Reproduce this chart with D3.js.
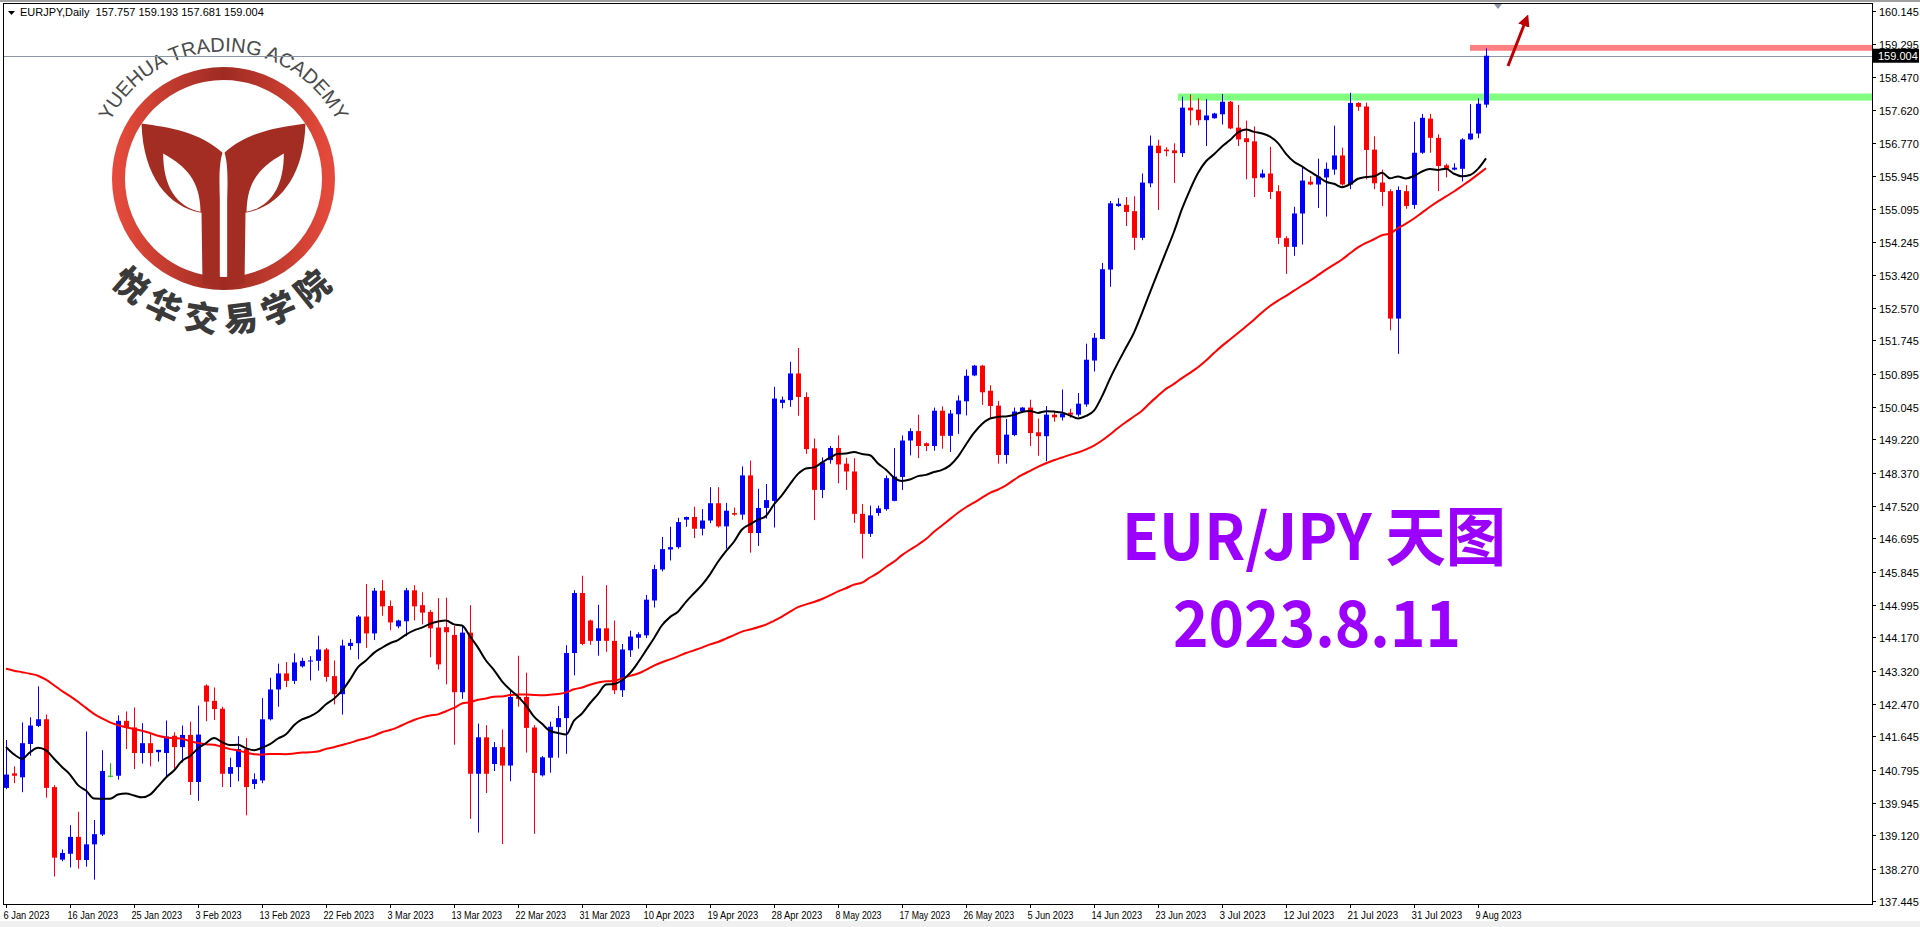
<!DOCTYPE html>
<html>
<head>
<meta charset="utf-8">
<script src="https://cdn.jsdelivr.net/npm/d3@7"></script>
<style>
  body { margin: 0; background: #fff; overflow: hidden; }
  svg { display: block; font-family: "Liberation Sans", Arial, sans-serif; }
</style>
</head>
<body>
<svg id="chart" width="1920" height="927"></svg>
<script>
// daily bars, 6 Jan 2023 .. 10 Aug 2023 (broker shows small Sunday bars)
var opens = [140.33,140.70,140.60,141.45,141.91,142.08,140.35,138.50,138.65,139.08,138.49,138.89,139.14,140.64,140.64,142.04,141.87,141.22,141.47,141.24,
  141.22,141.66,141.37,141.68,140.48,142.94,142.55,142.35,140.69,140.86,141.32,140.43,140.52,142.08,142.84,143.25,143.06,143.43,143.57,143.57,
  143.86,143.18,142.72,143.95,144.02,144.70,144.27,145.36,144.97,144.45,144.58,145.37,144.99,144.82,144.42,144.43,144.23,142.77,144.29,140.69,
  141.62,140.94,141.37,140.90,142.65,142.65,141.87,140.65,141.10,141.88,142.11,143.77,145.30,144.60,144.08,144.40,144.08,142.82,143.84,144.16,
  144.22,145.11,145.90,146.41,146.47,147.17,147.24,146.94,147.15,147.59,147.00,147.34,147.30,148.30,146.83,147.47,147.65,150.15,150.22,150.90,
  150.30,148.99,147.93,148.69,149.00,148.60,148.40,147.32,146.81,147.34,147.44,147.65,148.26,149.19,149.43,149.12,149.05,149.95,149.31,149.86,
  150.19,150.85,151.10,150.46,150.08,148.82,149.33,149.94,150.03,149.40,149.30,149.85,149.78,149.90,149.85,150.11,151.23,151.78,153.55,155.17,
  155.20,155.04,154.36,155.75,156.71,156.61,156.59,156.52,157.68,157.63,157.36,157.41,157.51,157.83,157.17,156.90,156.82,155.90,156.00,155.55,
  154.35,154.13,154.98,155.79,155.72,155.90,156.10,156.46,155.72,157.80,157.71,156.61,155.77,155.55,152.30,155.55,155.20,156.53,157.40,156.91,
  156.21,156.10,156.12,156.87,157.02,157.757];
var highs = [141.55,140.88,142.00,142.13,142.92,142.20,140.40,138.76,139.38,139.72,141.77,139.51,141.29,140.96,142.18,142.28,142.38,141.98,141.72,141.30,
  142.05,141.75,141.92,142.02,142.43,142.97,142.89,142.40,141.10,141.65,141.60,140.70,142.62,143.14,143.50,143.54,143.76,143.65,143.69,144.21,
  143.90,143.58,144.11,144.13,144.74,145.53,145.43,145.63,145.11,144.62,145.43,145.50,145.32,144.87,145.17,145.18,144.46,144.44,144.99,141.97,
  141.93,141.50,141.82,142.85,143.70,143.27,141.93,141.14,142.02,142.42,143.97,145.37,145.74,144.62,145.00,145.50,144.60,144.00,144.34,144.30,
  145.25,146.02,146.73,146.99,147.22,147.25,147.50,147.44,148.00,148.00,147.60,147.48,148.53,148.68,147.96,148.08,150.56,150.31,151.20,151.55,
  150.42,149.24,148.76,149.05,149.32,148.75,148.74,147.57,147.53,147.53,148.30,149.00,149.32,149.50,149.85,149.14,150.03,150.06,149.97,150.34,
  151.00,151.12,151.12,150.60,150.20,149.74,150.03,150.04,150.23,149.75,150.07,149.95,150.49,150.00,150.40,151.66,151.93,153.72,155.30,155.37,
  155.40,155.42,156.00,156.97,156.86,156.67,156.77,157.96,158.02,157.92,157.90,157.55,158.03,157.85,157.75,157.35,157.20,156.10,156.68,155.70,
  154.40,155.15,156.15,155.93,156.38,156.28,157.22,156.66,158.06,157.82,157.81,156.95,156.10,155.60,155.67,155.70,157.32,157.52,157.52,157.00,
  156.25,156.26,156.90,157.77,157.92,159.193];
var lows = [140.30,140.45,140.22,141.15,141.88,140.08,138.07,138.46,138.30,138.27,138.32,137.99,139.10,140.60,140.54,141.32,140.81,140.95,140.88,141.00,
  140.62,140.82,140.98,140.15,140.00,142.03,142.06,140.35,140.35,140.50,139.63,140.30,140.45,142.05,142.40,142.90,142.98,143.40,143.07,143.32,
  143.04,142.46,142.20,143.85,143.61,143.90,144.10,144.72,144.35,144.40,144.20,144.60,144.50,143.66,143.35,142.97,141.43,142.60,139.54,139.19,
  140.20,140.76,138.90,140.50,142.40,141.23,139.16,140.62,140.72,141.10,141.20,143.20,143.97,143.98,143.70,143.80,142.72,142.65,143.67,143.88,
  144.15,144.93,145.85,146.13,146.43,146.99,146.70,146.77,147.08,146.97,146.43,147.27,147.17,146.33,146.50,147.20,146.97,150.01,150.05,149.82,
  148.85,147.16,147.72,148.60,148.10,147.93,147.09,146.18,146.73,147.27,147.40,147.64,147.93,148.81,148.74,148.92,148.93,148.98,148.90,149.36,
  149.83,150.83,150.10,149.75,148.60,148.60,149.30,149.90,149.05,148.80,148.66,149.67,149.70,149.77,149.80,150.05,150.95,151.77,153.11,155.15,
  154.66,154.05,154.30,155.65,155.07,156.44,155.76,156.42,157.23,157.23,156.70,157.40,157.25,157.13,156.70,155.85,155.40,155.88,155.35,154.20,
  153.44,153.90,154.19,155.70,155.12,154.90,155.97,155.69,155.60,157.60,155.85,155.60,155.17,152.00,151.40,155.10,155.10,156.50,156.53,155.55,
  155.90,156.08,155.80,156.85,156.90,157.681];
var closes = [140.67,140.64,141.47,141.92,142.08,140.33,138.55,138.67,139.08,138.49,138.89,139.15,140.76,140.64,142.04,141.86,141.22,141.47,141.22,141.30,
  141.64,141.37,141.68,140.48,141.69,142.53,142.34,140.69,140.86,141.32,140.35,140.55,142.08,142.84,143.25,143.06,143.53,143.57,143.58,143.86,
  143.16,142.72,143.96,144.03,144.70,144.27,145.36,144.96,144.55,144.60,145.37,144.96,144.80,144.40,143.48,144.30,142.77,144.29,140.69,141.62,
  140.69,141.37,140.90,142.65,142.60,141.86,140.71,141.11,141.89,142.11,143.77,145.30,144.00,144.08,144.40,144.08,142.82,143.86,144.19,144.25,
  145.13,145.91,146.42,146.47,147.11,147.24,146.94,147.15,147.59,147.00,147.40,147.30,148.30,146.83,147.47,147.67,150.26,150.23,150.90,150.30,
  148.97,147.93,148.63,149.00,148.58,148.40,147.32,146.81,147.28,147.46,148.23,148.27,149.19,149.43,149.05,149.05,149.95,149.31,149.88,150.21,
  150.84,151.10,150.42,150.07,148.82,149.34,149.93,150.03,149.38,149.30,149.85,149.78,149.88,149.85,150.13,151.25,151.81,153.56,155.24,155.23,
  155.02,154.36,155.77,156.71,156.52,156.57,156.52,157.68,157.61,157.36,157.48,157.53,157.83,157.15,156.87,156.80,155.88,156.00,155.53,154.36,
  154.13,154.98,155.82,155.72,155.92,156.12,156.46,155.72,157.80,157.70,156.60,155.75,155.53,152.30,155.58,155.17,156.53,157.42,156.91,156.19,
  156.10,156.15,156.87,157.02,157.78,159.004];
// closes before the first visible bar (Oct-Dec 2022), only feed the moving averages
var priorCloses = [143.0,143.4,143.9,144.6,145.4,145.7,146.0,145.6,145.7,146.7,146.7,146.5,145.8,145.6,144.6,143.3,143.8,144.0,144.9,143.7,
  142.3,142.5,143.6,143.9,144.2,143.0,143.4,143.7,143.1,143.0,142.7,142.6,141.9,143.4,143.2,142.7,142.4,143.1,142.9,139.8,
  140.6,141.2,141.3,141.4,141.6,142.0,140.7,141.8,140.8];

var dateLabels = ["6 Jan 2023","16 Jan 2023","25 Jan 2023","3 Feb 2023","13 Feb 2023","22 Feb 2023","3 Mar 2023","13 Mar 2023",
  "22 Mar 2023","31 Mar 2023","10 Apr 2023","19 Apr 2023","28 Apr 2023","8 May 2023","17 May 2023","26 May 2023","5 Jun 2023",
  "14 Jun 2023","23 Jun 2023","3 Jul 2023","12 Jul 2023","21 Jul 2023","31 Jul 2023","9 Aug 2023"];
var priceTicks = [160.145,159.295,158.470,157.620,156.770,155.945,155.095,154.245,153.420,152.570,151.745,150.895,150.045,149.220,
  148.370,147.520,146.695,145.845,144.995,144.170,143.320,142.470,141.645,140.795,139.945,139.120,138.270,137.445];

var fastPeriod = 13, slowPeriod = 50;  // SMA black / red
var resistance = [157.86, 158.04];   // green zone
var target = [159.13, 159.28];       // red zone
var lastPrice = 159.004;

function sma(n) {
  var all = priorCloses.concat(closes), off = priorCloses.length;
  return closes.map(function (c, i) {
    var j = i + off;
    return d3.mean(all.slice(Math.max(0, j - n + 1), j + 1));
  });
}
var fast = sma(fastPeriod);
var slow = sma(slowPeriod);

var svg = d3.select("#chart");
var L = 4, R = 1872, T = 4, B = 904;

var x = d3.scaleLinear().domain([0, 1]).range([6, 14]);
var y = d3.scaleLinear().domain([137.445, 160.145]).range([901, 11]);

svg.append("rect").attr("x", 0).attr("y", 0).attr("width", 1920).attr("height", 927).attr("fill", "#fff");
svg.append("rect").attr("x", 0).attr("y", 0).attr("width", 1920).attr("height", 2).attr("fill", "#a0a0a0");
svg.append("rect").attr("x", 0).attr("y", 921).attr("width", 1920).attr("height", 6).attr("fill", "#f0f0f0");

// ---- logo ----
var CX = 223.5, CY = 178.5;
var defs = svg.append("defs");
var grad = defs.append("linearGradient").attr("id", "lg").attr("x1", "0").attr("x2", "1");
grad.append("stop").attr("offset", "0").attr("stop-color", "#e44a3b");
grad.append("stop").attr("offset", "0.5").attr("stop-color", "#9e2b22");
grad.append("stop").attr("offset", "1").attr("stop-color", "#e44a3b");
var logo = svg.append("g").attr("transform", "translate(" + CX + "," + CY + ")");
logo.append("circle").attr("r", 105).attr("fill", "none").attr("stroke", "url(#lg)").attr("stroke-width", 13);
var s = 1 / 3;
var armPath = "M185,310 C270,322 360,335 428,398 C418,430 418,470 420,540 L420,800 L368,790 L365,578 C265,560 190,470 185,310 Z";
var leafPath = "M250,400 C320,440 360,480 362,575 C290,560 250,500 250,400 Z";
[1, -1].forEach(function (m) {
  var g = logo.append("g").attr("transform", "scale(" + (m * s) + "," + s + ") translate(-431,-475)");
  g.append("path").attr("d", armPath).attr("fill", "#a32d22");
  g.append("path").attr("d", leafPath).attr("fill", "#fff");
});
var arcR = 127, a1 = -158 * Math.PI / 180, a2 = -22 * Math.PI / 180;
defs.append("path").attr("id", "topArc")
  .attr("d", "M" + (CX + arcR * Math.cos(a1)) + "," + (CY + arcR * Math.sin(a1)) +
    " A" + arcR + "," + arcR + " 0 0 1 " + (CX + arcR * Math.cos(a2)) + "," + (CY + arcR * Math.sin(a2)));
svg.append("text").style("font-size", "20px").attr("fill", "#4a4a4a")
  .append("textPath").attr("href", "#topArc").attr("startOffset", "50%").attr("text-anchor", "middle")
  .text("YUEHUA TRADING ACADEMY");
"悦华交易学院".split("").forEach(function (c, i) {
  var ang = 131 - i * 16, rad = ang * Math.PI / 180, r = 139;
  var cx = CX + r * Math.cos(rad), cy = CY + r * Math.sin(rad);
  svg.append("text")
    .attr("transform", "translate(" + cx + "," + cy + ") rotate(" + (ang - 90) + ")")
    .attr("text-anchor", "middle").attr("dominant-baseline", "central")
    .style("font-family", "'Noto Sans CJK SC'").style("font-weight", "900").style("font-size", "34px")
    .attr("fill", "#3a3a3a").text(c);
});

// zones
svg.append("rect").attr("x", 1178).attr("y", y(resistance[1])).attr("width", R - 1178)
  .attr("height", y(resistance[0]) - y(resistance[1])).attr("fill", "#80ff80");
svg.append("rect").attr("x", 1470).attr("y", y(target[1])).attr("width", R - 1470)
  .attr("height", y(target[0]) - y(target[1])).attr("fill", "#ff8080");

// last price line
var lpy = Math.round(y(lastPrice)) + 0.5;
svg.append("line").attr("x1", L).attr("x2", R).attr("y1", lpy).attr("y2", lpy).attr("stroke", "#8a96a4");

// candles
var bars = svg.append("g");
closes.forEach(function (c, i) {
  var o = opens[i], col = c > o ? "#0000ff" : (c < o ? "#ff0000" : "#00c000");
  var cx = Math.round(x(i)) + 0.5;
  bars.append("line").attr("x1", cx).attr("x2", cx).attr("y1", y(highs[i])).attr("y2", y(lows[i]))
    .attr("stroke", col).attr("stroke-width", 1);
  var top = y(Math.max(o, c)), h = Math.max(1, y(Math.min(o, c)) - top);
  bars.append("rect").attr("x", cx - 2.5).attr("y", top).attr("width", 5).attr("height", h).attr("fill", col);
});

// moving averages
var line = d3.line().x(function (d, i) { return x(i); }).y(function (d) { return y(d); }).curve(d3.curveMonotoneX);
svg.append("path").datum(slow).attr("d", line).attr("fill", "none").attr("stroke", "#ff0000").attr("stroke-width", 2);
svg.append("path").datum(fast).attr("d", line).attr("fill", "none").attr("stroke", "#000").attr("stroke-width", 2);

// arrow
defs.append("marker").attr("id", "ah").attr("viewBox", "0 0 10 10").attr("refX", 5).attr("refY", 5)
  .attr("markerWidth", 4).attr("markerHeight", 4).attr("orient", "auto")
  .append("path").attr("d", "M0,0 L10,5 L0,10 Z").attr("fill", "#c00000");
svg.append("line").attr("x1", 1508).attr("y1", 66).attr("x2", 1526).attr("y2", 20)
  .attr("stroke", "#c00000").attr("stroke-width", 3).attr("marker-end", "url(#ah)");
svg.append("path").attr("d", "M1494,4 L1502,4 L1498,9 Z").attr("fill", "#8a96a4");

// plot frame
svg.append("rect").attr("x", L - 0.5).attr("y", T - 0.5).attr("width", R - L + 1).attr("height", B - T + 1)
  .attr("fill", "none").attr("stroke", "#000");

// right axis
var ra = svg.append("g").style("font-size", "11px");
priceTicks.forEach(function (p) {
  var yy = Math.round(y(p)) + 0.5;
  ra.append("line").attr("x1", R).attr("x2", R + 4).attr("y1", yy).attr("y2", yy).attr("stroke", "#000");
  ra.append("text").attr("x", R + 7).attr("y", yy + 4).attr("fill", "#000").text(p.toFixed(3));
});
var ly = y(lastPrice);
ra.append("rect").attr("x", R + 1).attr("y", ly - 7).attr("width", 46).attr("height", 14).attr("fill", "#000");
ra.append("text").attr("x", R + 6).attr("y", ly + 4).attr("fill", "#fff").text(lastPrice.toFixed(3));

// bottom axis
var ba = svg.append("g").style("font-size", "10.5px");
dateLabels.forEach(function (d, k) {
  var xx = Math.round(x(k * 8)) + 0.5;
  ba.append("line").attr("x1", xx).attr("x2", xx).attr("y1", B).attr("y2", B + 4).attr("stroke", "#000");
  ba.append("text").attr("x", xx - 3).attr("y", B + 15).attr("fill", "#000")
    .attr("textLength", d.length * 4.6).attr("lengthAdjust", "spacingAndGlyphs").text(d);
});

// header
svg.append("path").attr("d", "M8,11 L15,11 L11.5,15 Z").attr("fill", "#000");
svg.append("text").attr("x", 20).attr("y", 16).style("font-size", "11px").attr("fill", "#000")
  .attr("xml:space", "preserve").text("EURJPY,Daily  157.757 159.193 157.681 159.004");

// title text
svg.append("text").attr("x", 1122).attr("y", 560)
  .style("font-family", "'Noto Sans CJK SC'").style("font-weight", "700").style("font-size", "64px")
  .attr("fill", "#9b00ff").attr("textLength", 384).attr("lengthAdjust", "spacingAndGlyphs")
  .attr("xml:space", "preserve").text("EUR/JPY 天图");
svg.append("text").attr("x", 1173).attr("y", 647)
  .style("font-family", "'Noto Sans CJK SC'").style("font-weight", "700").style("font-size", "64px")
  .attr("fill", "#9b00ff").attr("textLength", 288).attr("lengthAdjust", "spacingAndGlyphs").text("2023.8.11");
</script>
</body>
</html>
